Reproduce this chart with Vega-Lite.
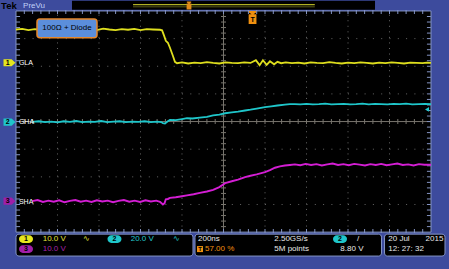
{
"$schema":"https://vega.github.io/schema/vega-lite/v6.json",
"width":449,"height":269,
"autosize":{"type":"fit","contains":"padding"},
"padding":0,
"background":"#3d4b9d",
"config":{"view":{"stroke":null},"font":"Liberation Sans"},
"datasets":{
"xt":[{"x":0.2,"c":0,"t":3.96,"b":-3.96},{"x":0.4,"c":0,"t":3.96,"b":-3.96},{"x":0.6,"c":0,"t":3.96,"b":-3.96},{"x":0.8,"c":0,"t":3.96,"b":-3.96},{"x":1,"c":0,"t":3.96,"b":-3.96},{"x":1.2,"c":0,"t":3.96,"b":-3.96},{"x":1.4,"c":0,"t":3.96,"b":-3.96},{"x":1.6,"c":0,"t":3.96,"b":-3.96},{"x":1.8,"c":0,"t":3.96,"b":-3.96},{"x":2,"c":0,"t":3.96,"b":-3.96},{"x":2.2,"c":0,"t":3.96,"b":-3.96},{"x":2.4,"c":0,"t":3.96,"b":-3.96},{"x":2.6,"c":0,"t":3.96,"b":-3.96},{"x":2.8,"c":0,"t":3.96,"b":-3.96},{"x":3,"c":0,"t":3.96,"b":-3.96},{"x":3.2,"c":0,"t":3.96,"b":-3.96},{"x":3.4,"c":0,"t":3.96,"b":-3.96},{"x":3.6,"c":0,"t":3.96,"b":-3.96},{"x":3.8,"c":0,"t":3.96,"b":-3.96},{"x":4,"c":0,"t":3.96,"b":-3.96},{"x":4.2,"c":0,"t":3.96,"b":-3.96},{"x":4.4,"c":0,"t":3.96,"b":-3.96},{"x":4.6,"c":0,"t":3.96,"b":-3.96},{"x":4.8,"c":0,"t":3.96,"b":-3.96},{"x":5,"c":0,"t":3.96,"b":-3.96},{"x":5.2,"c":0,"t":3.96,"b":-3.96},{"x":5.4,"c":0,"t":3.96,"b":-3.96},{"x":5.6,"c":0,"t":3.96,"b":-3.96},{"x":5.8,"c":0,"t":3.96,"b":-3.96},{"x":6,"c":0,"t":3.96,"b":-3.96},{"x":6.2,"c":0,"t":3.96,"b":-3.96},{"x":6.4,"c":0,"t":3.96,"b":-3.96},{"x":6.6,"c":0,"t":3.96,"b":-3.96},{"x":6.8,"c":0,"t":3.96,"b":-3.96},{"x":7,"c":0,"t":3.96,"b":-3.96},{"x":7.2,"c":0,"t":3.96,"b":-3.96},{"x":7.4,"c":0,"t":3.96,"b":-3.96},{"x":7.6,"c":0,"t":3.96,"b":-3.96},{"x":7.8,"c":0,"t":3.96,"b":-3.96},{"x":8,"c":0,"t":3.96,"b":-3.96},{"x":8.2,"c":0,"t":3.96,"b":-3.96},{"x":8.4,"c":0,"t":3.96,"b":-3.96},{"x":8.6,"c":0,"t":3.96,"b":-3.96},{"x":8.8,"c":0,"t":3.96,"b":-3.96},{"x":9,"c":0,"t":3.96,"b":-3.96},{"x":9.2,"c":0,"t":3.96,"b":-3.96},{"x":9.4,"c":0,"t":3.96,"b":-3.96},{"x":9.6,"c":0,"t":3.96,"b":-3.96},{"x":9.8,"c":0,"t":3.96,"b":-3.96}],
"yt":[{"y":-3.8,"c":5,"l":0.05,"r":9.95},{"y":-3.6,"c":5,"l":0.05,"r":9.95},{"y":-3.4,"c":5,"l":0.05,"r":9.95},{"y":-3.2,"c":5,"l":0.05,"r":9.95},{"y":-3,"c":5,"l":0.05,"r":9.95},{"y":-2.8,"c":5,"l":0.05,"r":9.95},{"y":-2.6,"c":5,"l":0.05,"r":9.95},{"y":-2.4,"c":5,"l":0.05,"r":9.95},{"y":-2.2,"c":5,"l":0.05,"r":9.95},{"y":-2,"c":5,"l":0.05,"r":9.95},{"y":-1.8,"c":5,"l":0.05,"r":9.95},{"y":-1.6,"c":5,"l":0.05,"r":9.95},{"y":-1.4,"c":5,"l":0.05,"r":9.95},{"y":-1.2,"c":5,"l":0.05,"r":9.95},{"y":-1,"c":5,"l":0.05,"r":9.95},{"y":-0.8,"c":5,"l":0.05,"r":9.95},{"y":-0.6,"c":5,"l":0.05,"r":9.95},{"y":-0.4,"c":5,"l":0.05,"r":9.95},{"y":-0.2,"c":5,"l":0.05,"r":9.95},{"y":0,"c":5,"l":0.05,"r":9.95},{"y":0.2,"c":5,"l":0.05,"r":9.95},{"y":0.4,"c":5,"l":0.05,"r":9.95},{"y":0.6,"c":5,"l":0.05,"r":9.95},{"y":0.8,"c":5,"l":0.05,"r":9.95},{"y":1,"c":5,"l":0.05,"r":9.95},{"y":1.2,"c":5,"l":0.05,"r":9.95},{"y":1.4,"c":5,"l":0.05,"r":9.95},{"y":1.6,"c":5,"l":0.05,"r":9.95},{"y":1.8,"c":5,"l":0.05,"r":9.95},{"y":2,"c":5,"l":0.05,"r":9.95},{"y":2.2,"c":5,"l":0.05,"r":9.95},{"y":2.4,"c":5,"l":0.05,"r":9.95},{"y":2.6,"c":5,"l":0.05,"r":9.95},{"y":2.8,"c":5,"l":0.05,"r":9.95},{"y":3,"c":5,"l":0.05,"r":9.95},{"y":3.2,"c":5,"l":0.05,"r":9.95},{"y":3.4,"c":5,"l":0.05,"r":9.95},{"y":3.6,"c":5,"l":0.05,"r":9.95},{"y":3.8,"c":5,"l":0.05,"r":9.95}],
"ch1":[{"x":0,"y":3.33},{"x":0.15,"y":3.35},{"x":0.3,"y":3.31},{"x":0.45,"y":3.34},{"x":0.6,"y":3.32},{"x":0.75,"y":3.36},{"x":0.9,"y":3.31},{"x":1.05,"y":3.34},{"x":1.2,"y":3.33},{"x":1.35,"y":3.3},{"x":1.5,"y":3.35},{"x":1.65,"y":3.32},{"x":1.8,"y":3.34},{"x":1.95,"y":3.31},{"x":2.1,"y":3.36},{"x":2.25,"y":3.33},{"x":2.4,"y":3.31},{"x":2.55,"y":3.34},{"x":2.7,"y":3.32},{"x":2.85,"y":3.35},{"x":3,"y":3.31},{"x":3.15,"y":3.34},{"x":3.3,"y":3.33},{"x":3.47,"y":3.32},{"x":3.52,"y":3.3},{"x":3.57,"y":3.1},{"x":3.61,"y":2.92},{"x":3.66,"y":2.85},{"x":3.71,"y":2.67},{"x":3.78,"y":2.38},{"x":3.83,"y":2.16},{"x":3.88,"y":2.11},{"x":4,"y":2.14},{"x":4.15,"y":2.1},{"x":4.3,"y":2.13},{"x":4.45,"y":2.11},{"x":4.6,"y":2.15},{"x":4.75,"y":2.12},{"x":4.9,"y":2.1},{"x":5.05,"y":2.14},{"x":5.2,"y":2.12},{"x":5.35,"y":2.11},{"x":5.5,"y":2.14},{"x":5.65,"y":2.12},{"x":5.78,"y":2.22},{"x":5.87,"y":2.04},{"x":5.95,"y":2.22},{"x":6.04,"y":2.05},{"x":6.12,"y":2.18},{"x":6.22,"y":2.07},{"x":6.3,"y":2.16},{"x":6.39,"y":2.11},{"x":6.5,"y":2.14},{"x":6.65,"y":2.11},{"x":6.8,"y":2.13},{"x":6.95,"y":2.1},{"x":7.1,"y":2.14},{"x":7.25,"y":2.12},{"x":7.4,"y":2.11},{"x":7.55,"y":2.15},{"x":7.7,"y":2.12},{"x":7.85,"y":2.1},{"x":8,"y":2.13},{"x":8.15,"y":2.11},{"x":8.3,"y":2.14},{"x":8.45,"y":2.12},{"x":8.6,"y":2.1},{"x":8.75,"y":2.13},{"x":8.9,"y":2.11},{"x":9.05,"y":2.14},{"x":9.2,"y":2.12},{"x":9.35,"y":2.1},{"x":9.5,"y":2.13},{"x":9.65,"y":2.12},{"x":9.8,"y":2.11},{"x":9.9,"y":2.13},{"x":10,"y":2.12}],
"ch2":[{"x":0.39,"y":-0.01},{"x":0.55,"y":0.01},{"x":0.7,"y":-0.02},{"x":0.85,"y":0},{"x":1,"y":-0.03},{"x":1.15,"y":0.01},{"x":1.3,"y":-0.01},{"x":1.45,"y":0.02},{"x":1.6,"y":-0.02},{"x":1.75,"y":0},{"x":1.9,"y":-0.01},{"x":2.05,"y":0.02},{"x":2.2,"y":-0.02},{"x":2.35,"y":0},{"x":2.5,"y":0.01},{"x":2.65,"y":-0.02},{"x":2.8,"y":0},{"x":2.95,"y":-0.01},{"x":3.1,"y":0.01},{"x":3.25,"y":-0.02},{"x":3.4,"y":0},{"x":3.5,"y":-0.02},{"x":3.54,"y":-0.06},{"x":3.59,"y":-0.07},{"x":3.65,"y":0},{"x":3.71,"y":0.06},{"x":3.85,"y":0.05},{"x":4,"y":0.09},{"x":4.12,"y":0.12},{"x":4.25,"y":0.11},{"x":4.43,"y":0.14},{"x":4.6,"y":0.17},{"x":4.75,"y":0.22},{"x":4.9,"y":0.25},{"x":5.04,"y":0.3},{"x":5.2,"y":0.33},{"x":5.35,"y":0.36},{"x":5.52,"y":0.4},{"x":5.65,"y":0.43},{"x":5.8,"y":0.47},{"x":6,"y":0.52},{"x":6.15,"y":0.55},{"x":6.3,"y":0.58},{"x":6.48,"y":0.61},{"x":6.6,"y":0.63},{"x":6.72,"y":0.63},{"x":6.85,"y":0.62},{"x":7,"y":0.64},{"x":7.15,"y":0.62},{"x":7.3,"y":0.63},{"x":7.45,"y":0.65},{"x":7.6,"y":0.62},{"x":7.75,"y":0.63},{"x":7.9,"y":0.64},{"x":8.05,"y":0.62},{"x":8.2,"y":0.63},{"x":8.35,"y":0.65},{"x":8.5,"y":0.62},{"x":8.65,"y":0.64},{"x":8.8,"y":0.63},{"x":8.95,"y":0.62},{"x":9.1,"y":0.64},{"x":9.25,"y":0.63},{"x":9.4,"y":0.65},{"x":9.55,"y":0.62},{"x":9.7,"y":0.63},{"x":9.85,"y":0.64},{"x":10,"y":0.63}],
"ch3":[{"x":0.39,"y":-2.88},{"x":0.52,"y":-2.84},{"x":0.65,"y":-2.91},{"x":0.78,"y":-2.86},{"x":0.91,"y":-2.9},{"x":1.04,"y":-2.85},{"x":1.17,"y":-2.92},{"x":1.3,"y":-2.87},{"x":1.43,"y":-2.84},{"x":1.56,"y":-2.9},{"x":1.69,"y":-2.86},{"x":1.82,"y":-2.91},{"x":1.95,"y":-2.85},{"x":2.08,"y":-2.89},{"x":2.21,"y":-2.86},{"x":2.34,"y":-2.92},{"x":2.47,"y":-2.87},{"x":2.6,"y":-2.84},{"x":2.73,"y":-2.9},{"x":2.86,"y":-2.86},{"x":2.99,"y":-2.91},{"x":3.12,"y":-2.85},{"x":3.25,"y":-2.89},{"x":3.38,"y":-2.86},{"x":3.47,"y":-2.9},{"x":3.54,"y":-3},{"x":3.58,"y":-2.95},{"x":3.61,"y":-2.81},{"x":3.66,"y":-2.8},{"x":3.71,"y":-2.76},{"x":3.85,"y":-2.74},{"x":4,"y":-2.7},{"x":4.12,"y":-2.67},{"x":4.28,"y":-2.63},{"x":4.43,"y":-2.58},{"x":4.6,"y":-2.53},{"x":4.75,"y":-2.47},{"x":4.9,"y":-2.37},{"x":5.04,"y":-2.23},{"x":5.2,"y":-2.16},{"x":5.35,"y":-2.1},{"x":5.52,"y":-2.01},{"x":5.65,"y":-1.96},{"x":5.8,"y":-1.91},{"x":6,"y":-1.83},{"x":6.12,"y":-1.76},{"x":6.24,"y":-1.67},{"x":6.36,"y":-1.62},{"x":6.48,"y":-1.59},{"x":6.6,"y":-1.57},{"x":6.72,"y":-1.55},{"x":6.85,"y":-1.58},{"x":6.98,"y":-1.53},{"x":7.11,"y":-1.57},{"x":7.24,"y":-1.54},{"x":7.37,"y":-1.59},{"x":7.5,"y":-1.55},{"x":7.63,"y":-1.52},{"x":7.76,"y":-1.57},{"x":7.89,"y":-1.54},{"x":8.02,"y":-1.58},{"x":8.15,"y":-1.53},{"x":8.28,"y":-1.56},{"x":8.41,"y":-1.59},{"x":8.54,"y":-1.54},{"x":8.67,"y":-1.57},{"x":8.8,"y":-1.53},{"x":8.93,"y":-1.58},{"x":9.06,"y":-1.55},{"x":9.19,"y":-1.52},{"x":9.32,"y":-1.57},{"x":9.45,"y":-1.55},{"x":9.58,"y":-1.59},{"x":9.71,"y":-1.54},{"x":9.84,"y":-1.56},{"x":10,"y":-1.56}]
},
"encoding":{
"x":{"field":"x","type":"quantitative","scale":{"domain":[-0.3855,10.4337],"nice":false,"zero":false},"axis":null},
"y":{"field":"y","type":"quantitative","scale":{"domain":[-5.3333,4.3604],"nice":false,"zero":false},"axis":null}
},
"layer":[
{"data":{"values":[{"x":1.349,"x2":8.651,"y":4.37,"y2":4.04}]},"mark":{"type":"rect","color":"#000000"},"encoding":{"x2":{"field":"x2"},"y2":{"field":"y2"}}},
{"data":{"values":[{"x":-0.36,"y":4.19,"t":"Tek"}]},"mark":{"type":"text","align":"left","baseline":"middle","fontSize":9.5,"fontWeight":"bold","color":"#000000"},"encoding":{"text":{"field":"t"}}},
{"data":{"values":[{"x":0.17,"y":4.19,"t":"PreVu"}]},"mark":{"type":"text","align":"left","baseline":"middle","fontSize":8,"color":"#c0d0f8"},"encoding":{"text":{"field":"t"}}},
{"data":{"values":[{"x":2.82,"y":4.23},{"x":7.2,"y":4.23}]},"mark":{"type":"line","color":"#b0b024","strokeWidth":1.2},"encoding":{}},
{"data":{"values":[{"x":2.82,"y":4.15},{"x":7.2,"y":4.15}]},"mark":{"type":"line","color":"#5a5a18","strokeWidth":1},"encoding":{}},
{"data":{"values":[{"x":0,"x2":10,"y":-4,"y2":4}]},"mark":{"type":"rect","fill":"#000000","stroke":"#8494c4","strokeWidth":1},"encoding":{"x2":{"field":"x2"},"y2":{"field":"y2"}}},
{"data":{"values":[{"x":0,"x2":4.265,"y":-4.072,"y2":-4.865},{"x":4.313,"x2":8.807,"y":-4.072,"y2":-4.865},{"x":8.88,"x2":10.337,"y":-4.072,"y2":-4.865}]},"mark":{"type":"rect","fill":"#000000","stroke":"#8494c4","strokeWidth":1,"cornerRadius":3},"encoding":{"x2":{"field":"x2"},"y2":{"field":"y2"}}},
{"data":{"values":[{"x":1,"y":-4,"y2":4},{"x":2,"y":-4,"y2":4},{"x":3,"y":-4,"y2":4},{"x":4,"y":-4,"y2":4},{"x":6,"y":-4,"y2":4},{"x":7,"y":-4,"y2":4},{"x":8,"y":-4,"y2":4},{"x":9,"y":-4,"y2":4}]},"mark":{"type":"rule","color":"#666666","strokeDash":[1,4.55],"strokeWidth":1},"encoding":{"y2":{"field":"y2"}}},
{"data":{"values":[{"x":0,"x2":10,"y":-3},{"x":0,"x2":10,"y":-2},{"x":0,"x2":10,"y":-1},{"x":0,"x2":10,"y":1},{"x":0,"x2":10,"y":2},{"x":0,"x2":10,"y":3}]},"mark":{"type":"rule","color":"#666666","strokeDash":[1,7.3],"strokeWidth":1},"encoding":{"x2":{"field":"x2"}}},
{"data":{"values":[{"x":5,"y":-4,"y2":4}]},"mark":{"type":"rule","color":"#78756e","strokeWidth":1},"encoding":{"y2":{"field":"y2"}}},
{"data":{"values":[{"x":0,"x2":10,"y":0}]},"mark":{"type":"rule","color":"#78756e","strokeWidth":1},"encoding":{"x2":{"field":"x2"}}},
{"data":{"name":"xt"},"mark":{"type":"tick","orient":"vertical","size":5,"thickness":1,"color":"#78756e","opacity":1},"encoding":{"y":{"field":"c","type":"quantitative"}}},
{"data":{"name":"xt"},"mark":{"type":"tick","orient":"vertical","size":4,"thickness":1,"color":"#8494c4","opacity":1},"encoding":{"y":{"field":"t","type":"quantitative"}}},
{"data":{"name":"xt"},"mark":{"type":"tick","orient":"vertical","size":4,"thickness":1,"color":"#8494c4","opacity":1},"encoding":{"y":{"field":"b","type":"quantitative"}}},
{"data":{"name":"yt"},"mark":{"type":"tick","orient":"horizontal","size":5,"thickness":1,"color":"#78756e","opacity":1},"encoding":{"x":{"field":"c","type":"quantitative"}}},
{"data":{"name":"yt"},"mark":{"type":"tick","orient":"horizontal","size":4,"thickness":1,"color":"#8494c4","opacity":1},"encoding":{"x":{"field":"l","type":"quantitative"}}},
{"data":{"name":"yt"},"mark":{"type":"tick","orient":"horizontal","size":4,"thickness":1,"color":"#8494c4","opacity":1},"encoding":{"x":{"field":"r","type":"quantitative"}}},
{"data":{"name":"ch1"},"mark":{"type":"line","color":"#dede1e","strokeWidth":1.8},"encoding":{}},
{"data":{"name":"ch2"},"mark":{"type":"line","color":"#1fc6ca","strokeWidth":1.8},"encoding":{}},
{"data":{"name":"ch3"},"mark":{"type":"line","color":"#d41ed4","strokeWidth":1.9},"encoding":{}},
{"data":{"values":[{"x":0.506,"x2":1.952,"y":3.712,"y2":3.027}]},"mark":{"type":"rect","fill":"#5b8edb","stroke":"#e8882a","strokeWidth":1.5,"cornerRadius":3},"encoding":{"x2":{"field":"x2"},"y2":{"field":"y2"}}},
{"data":{"values":[{"x":1.229,"y":3.37,"t":"100Ω + Diode"}]},"mark":{"type":"text","align":"center","baseline":"middle","fontSize":8,"color":"#000000"},"encoding":{"text":{"field":"t"}}},
{"data":{"values":[{"x":0.07,"y":2.1,"t":"GLA"},{"x":0.07,"y":-0.03,"t":"GHA"},{"x":0.07,"y":-2.9,"t":"SHA"}]},"mark":{"type":"text","align":"left","baseline":"middle","fontSize":7,"color":"#ffffff"},"encoding":{"text":{"field":"t"}}},
{"data":{"values":[{"x":-0.157,"y":2.126,"ch":"1"},{"x":-0.157,"y":-0.02,"ch":"2"},{"x":-0.157,"y":-2.88,"ch":"3"}]},"mark":{"type":"point","shape":"M -1 -0.6 L 0.35 -0.6 L 1 0 L 0.35 0.6 L -1 0.6 Z","size":144,"filled":true,"opacity":1},"encoding":{"color":{"field":"ch","type":"nominal","scale":{"domain":["1","2","3"],"range":["#e6e61e","#1fc6ca","#a01ea8"]},"legend":null}}},
{"data":{"values":[{"x":-0.2,"y":2.126,"ch":"1"},{"x":-0.2,"y":-0.02,"ch":"2"},{"x":-0.2,"y":-2.88,"ch":"3"}]},"mark":{"type":"text","align":"center","baseline":"middle","fontSize":7,"fontWeight":"bold","color":"#000000"},"encoding":{"text":{"field":"ch"}}},
{"data":{"values":[{"x":9.904,"y":0.44}]},"mark":{"type":"point","shape":"triangle-left","size":22,"filled":true,"opacity":1,"color":"#1fc6ca"},"encoding":{}},
{"data":{"values":[{"x":5.7,"y":3.766}]},"mark":{"type":"point","shape":"M -0.55 -1 L 0.55 -1 L 0.55 -0.75 L 0.15 -0.5 L 0.6 -0.5 L 0.6 1 L -0.6 1 L -0.6 -0.5 L -0.15 -0.5 L -0.55 -0.75 Z","size":169,"filled":true,"opacity":1,"color":"#f0900f"},"encoding":{}},
{"data":{"values":[{"x":4.169,"y":4.2}]},"mark":{"type":"point","shape":"M -0.55 -1 L 0.55 -1 L 0.55 -0.75 L 0.15 -0.5 L 0.6 -0.5 L 0.6 1 L -0.6 1 L -0.6 -0.5 L -0.15 -0.5 L -0.55 -0.75 Z","size":64,"filled":true,"opacity":1,"color":"#e08a18"},"encoding":{}},
{"data":{"values":[{"x":5.7,"y":3.69,"t":"T"}]},"mark":{"type":"text","align":"center","baseline":"middle","fontSize":7,"fontWeight":"bold","color":"#000000"},"encoding":{"text":{"field":"t"}}},
{"data":{"values":[{"x":0.241,"y":-4.252,"ch":"1"},{"x":0.241,"y":-4.613,"ch":"3"},{"x":2.373,"y":-4.252,"ch":"2"},{"x":7.807,"y":-4.252,"ch":"2"}]},"mark":{"type":"point","shape":"M -0.45 -0.55 L 0.45 -0.55 A 0.55 0.55 0 0 1 0.45 0.55 L -0.45 0.55 A 0.55 0.55 0 0 1 -0.45 -0.55 Z","size":196,"filled":true,"opacity":1},"encoding":{"color":{"field":"ch","type":"nominal","scale":{"domain":["1","2","3"],"range":["#e6e61e","#1fc6ca","#a01ea8"]},"legend":null}}},
{"data":{"values":[{"x":0.241,"y":-4.252,"ch":"1"},{"x":0.241,"y":-4.613,"ch":"3"},{"x":2.373,"y":-4.252,"ch":"2"},{"x":7.807,"y":-4.252,"ch":"2"}]},"mark":{"type":"text","align":"center","baseline":"middle","fontSize":7,"fontWeight":"bold","color":"#000000"},"encoding":{"text":{"field":"ch"}}},
{"data":{"values":[{"x":0.643,"y":-4.252,"t":"10.0 V"},{"x":1.62,"y":-4.252,"t":"∿"}]},"mark":{"type":"text","align":"left","baseline":"middle","fontSize":8,"color":"#e2e23a"},"encoding":{"text":{"field":"t"}}},
{"data":{"values":[{"x":2.764,"y":-4.252,"t":"20.0 V"},{"x":3.78,"y":-4.252,"t":"∿"}]},"mark":{"type":"text","align":"left","baseline":"middle","fontSize":8,"color":"#22c8cc"},"encoding":{"text":{"field":"t"}}},
{"data":{"values":[{"x":0.643,"y":-4.613,"t":"10.0 V"}]},"mark":{"type":"text","align":"left","baseline":"middle","fontSize":8,"color":"#a420aa"},"encoding":{"text":{"field":"t"}}},
{"data":{"values":[{"x":4.434,"y":-4.613}]},"mark":{"type":"square","size":36,"filled":true,"opacity":1,"color":"#f0900f"},"encoding":{}},
{"data":{"values":[{"x":4.434,"y":-4.613,"t":"T"}]},"mark":{"type":"text","align":"center","baseline":"middle","fontSize":6,"fontWeight":"bold","color":"#000000"},"encoding":{"text":{"field":"t"}}},
{"data":{"values":[{"x":4.554,"y":-4.613,"t":"57.00 %"}]},"mark":{"type":"text","align":"left","baseline":"middle","fontSize":8,"color":"#f0900f"},"encoding":{"text":{"field":"t"}}},
{"data":{"values":[{"x":4.386,"y":-4.252,"t":"200ns"},{"x":6.224,"y":-4.252,"t":"2.50GS/s"},{"x":6.224,"y":-4.613,"t":"5M points"},{"x":8.971,"y":-4.252,"t":"20 Jul"},{"x":8.971,"y":-4.613,"t":"12: 27: 32"}]},"mark":{"type":"text","align":"left","baseline":"middle","fontSize":8,"color":"#e8e8e8"},"encoding":{"text":{"field":"t"}}},
{"data":{"values":[{"x":8.373,"y":-4.613,"t":"8.80 V"},{"x":10.297,"y":-4.252,"t":"2015"}]},"mark":{"type":"text","align":"right","baseline":"middle","fontSize":8,"color":"#e8e8e8"},"encoding":{"text":{"field":"t"}}},
{"data":{"values":[{"x":8.241,"y":-4.252,"t":"/"}]},"mark":{"type":"text","align":"center","baseline":"middle","fontSize":8,"color":"#e8e8e8"},"encoding":{"text":{"field":"t"}}}
]
}
